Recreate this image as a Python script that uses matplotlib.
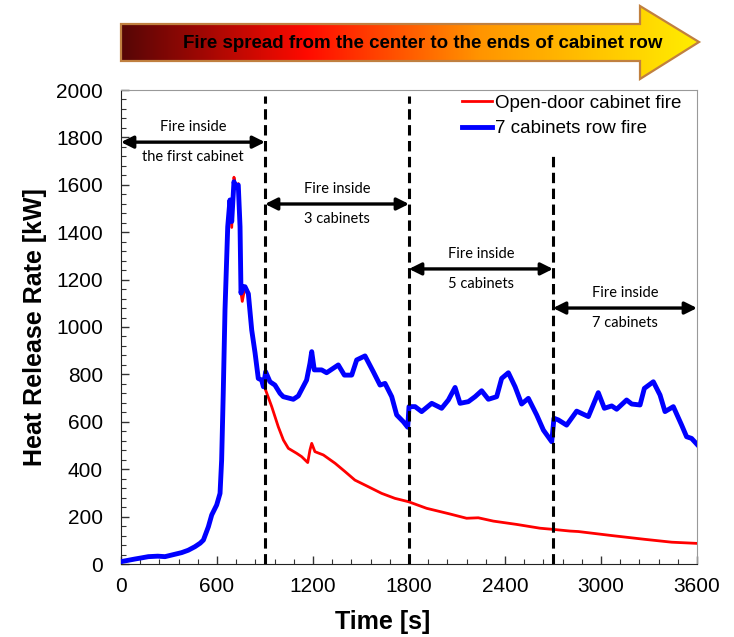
import numpy as np
import matplotlib
matplotlib.use("Agg")
import matplotlib.pyplot as plt
from matplotlib.colors import LinearSegmentedColormap
from matplotlib.patches import Polygon
from matplotlib.ticker import MultipleLocator

# growth phase, same for both tests (s, kW)
t_growth = [0, 40, 87, 130, 171, 230, 275, 330, 379, 420, 462, 495, 515, 546, 567, 598,
            619, 629, 639, 650, 667, 681, 692, 706, 716, 733, 744, 750, 758, 775, 796,
            817, 838, 858, 879, 890]
hrr_growth_row = [10, 15, 21, 26, 31, 33, 31, 40, 48, 58, 73, 88, 101, 157, 207, 249,
                  298, 439, 720, 1072, 1423, 1536, 1445, 1613, 1590, 1599, 1423, 1143, 1171,
                  1170, 1140, 987, 890, 783, 776, 748]
hrr_growth_open = [10, 15, 21, 26, 31, 33, 31, 40, 48, 58, 73, 88, 101, 157, 207, 249,
                   298, 439, 720, 1072, 1423, 1536, 1420, 1632, 1590, 1605, 1423, 1143, 1108,
                   1170, 1140, 987, 890, 783, 776, 748]

# 7 cabinets row fire after first cabinet
t_row = [904, 931, 962, 994, 1014, 1077, 1108, 1160, 1181, 1192, 1208, 1254, 1285, 1358,
         1396, 1442, 1473, 1525, 1577, 1619, 1650, 1692, 1723, 1765, 1792, 1800, 1838, 1879,
         1942, 2004, 2046, 2088, 2119, 2171, 2213, 2254, 2296, 2348, 2379, 2421, 2463, 2504,
         2546, 2598, 2640, 2692, 2706, 2733, 2785, 2848, 2921, 2983, 3021, 3067, 3098, 3160,
         3192, 3244, 3271, 3327, 3369, 3400, 3452, 3504, 3535, 3566, 3600]
hrr_row = [811, 769, 755, 720, 706, 695, 709, 776, 847, 896, 819, 819, 807, 840,
           797, 797, 861, 878, 811, 755, 762, 706, 629, 600, 577, 664, 664, 643,
           678, 657, 692, 745, 678, 685, 706, 731, 695, 706, 783, 807, 748, 675,
           699, 629, 565, 516, 615, 608, 586, 645, 622, 723, 657, 667, 653, 692,
           675, 671, 741, 769, 713, 643, 664, 586, 537, 530, 505]

# open-door single cabinet decay
t_open = [900, 942, 983, 1015, 1046, 1098, 1129, 1167, 1181, 1192, 1212, 1265, 1338, 1400,
          1462, 1546, 1629, 1712, 1796, 1910, 2056, 2160, 2233, 2327, 2473, 2619, 2702,
          2806, 2858, 3067, 3275, 3442, 3600]
hrr_open = [741, 664, 579, 523, 488, 467, 453, 428, 481, 509, 474, 460, 425, 390,
            354, 326, 298, 277, 263, 235, 211, 193, 195, 181, 167, 151, 146,
            139, 137, 120, 104, 92, 87]

phase_bounds = [900, 1800, 2700]
phase_line_tops = [1975, 1975, 1720]
span_starts = [0, 900, 1800, 2700]
span_ends = [900, 1800, 2700, 3600]
span_levels = [1780, 1519, 1245, 1080]
span_labels = ["the first cabinet", "3 cabinets", "5 cabinets", "7 cabinets"]

W, H = 734, 637
fig = plt.figure(figsize=(W / 100, H / 100), dpi=100)

# banner arrow drawn in pixel coordinates
bax = fig.add_axes([0, 0, 1, 1])
bax.set_xlim(0, W)
bax.set_ylim(H, 0)
bax.axis("off")
arrow_pts = [(121, 24), (640, 24), (640, 6), (699, 42), (640, 79), (640, 61), (121, 61)]
grad = LinearSegmentedColormap.from_list(
    "fire", [(0, "#560606"), (0.32, "#ff0a00"), (0.62, "#ff9400"), (1, "#ffee00")])
gimg = bax.imshow(np.linspace(0, 1, 256)[None, :], cmap=grad, aspect="auto",
                  extent=(121, 699, 79, 6), zorder=1)
poly = Polygon(arrow_pts, closed=True, facecolor="none", edgecolor="#c08040",
               lw=1.6, zorder=2)
bax.add_patch(poly)
gimg.set_clip_path(poly)
bax.text(423, 43, "Fire spread from the center to the ends of cabinet row",
         ha="center", va="center", fontsize=13.5, fontweight="bold",
         family="Liberation Sans", zorder=3)

ax = fig.add_axes([121 / W, (H - 564) / H, 576 / W, 474 / H])
ax.plot(t_growth + t_open, hrr_growth_open + hrr_open, color="red", lw=2,
        label="Open-door cabinet fire", zorder=3)
ax.plot(t_growth + t_row, hrr_growth_row + hrr_row, color="blue", lw=3.5,
        label="7 cabinets row fire", zorder=4)

for xb, top in zip(phase_bounds, phase_line_tops):
    ax.plot([xb, xb], [0, top], color="black", lw=2.2, dashes=(3.4, 1.8), zorder=5)

for x0, x1, lev, lab in zip(span_starts, span_ends, span_levels, span_labels):
    ax.annotate("", xy=(x1, lev), xytext=(x0, lev), annotation_clip=False,
                arrowprops=dict(arrowstyle="<|-|>,head_length=0.6,head_width=0.3",
                                mutation_scale=12, lw=2.4, color="black",
                                shrinkA=0, shrinkB=0), zorder=6)
    xm = (x0 + x1) / 2
    ax.text(xm, lev + 62, "Fire inside", ha="center", va="center",
            fontsize=10.5, family="Lato")
    ax.text(xm, lev - 62, lab, ha="center", va="center", fontsize=10.5, family="Lato")

ax.set_xlim(0, 3600)
ax.set_ylim(0, 2000)
ax.xaxis.set_major_locator(MultipleLocator(600))
ax.xaxis.set_minor_locator(MultipleLocator(120))
ax.yaxis.set_major_locator(MultipleLocator(200))
ax.yaxis.set_minor_locator(MultipleLocator(40))
ax.tick_params(which="both", direction="in", color="#333333")
ax.tick_params(which="major", length=6, width=1)
ax.tick_params(which="minor", length=3.5, width=0.8)
ax.tick_params(axis="y", pad=13)
ax.tick_params(axis="x", pad=9)
for lbl in ax.get_xticklabels() + ax.get_yticklabels():
    lbl.set_family("Liberation Sans")
    lbl.set_fontsize(15)
for side in ["left", "bottom"]:
    ax.spines[side].set_color("#222222")
for side in ["top", "right"]:
    ax.spines[side].set_color("#999999")

ax.set_xlabel("Time [s]", fontsize=18, fontweight="bold", family="Liberation Sans")
ax.set_ylabel("Heat Release Rate [kW]", fontsize=18, fontweight="bold",
              family="Liberation Sans")
ax.xaxis.set_label_coords(0.455, -0.098)
ax.yaxis.set_label_coords(-0.128, 0.5)

ax.legend(loc="upper left", bbox_to_anchor=(0.592, 0.99), frameon=False,
          prop={"family": "Liberation Sans", "size": 13.5}, handlelength=1.6,
          handletextpad=0.15, borderpad=0, borderaxespad=0, labelspacing=0.45)

fig.savefig("out.png", dpi=100)
